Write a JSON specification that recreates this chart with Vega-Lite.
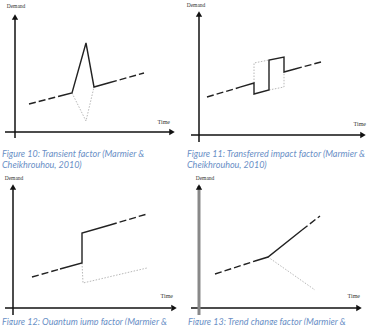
{
  "$schema": "https://vega.github.io/schema/vega-lite/v6.json",
  "width": 373,
  "height": 325,
  "padding": 0,
  "autosize": {"type": "none"},
  "background": "white",
  "config": {"view": {"stroke": null}},
  "datasets": {
    "axes": [
      {"panel": 1, "orient": "v", "x": 15, "y": 16, "x2": 15, "y2": 138},
      {"panel": 1, "orient": "h", "x": 5, "y": 132, "x2": 170, "y2": 132},
      {"panel": 2, "orient": "v", "x": 199, "y": 13, "x2": 199, "y2": 142},
      {"panel": 2, "orient": "h", "x": 191, "y": 135, "x2": 361, "y2": 135},
      {"panel": 3, "orient": "v", "x": 13, "y": 186, "x2": 13, "y2": 315},
      {"panel": 3, "orient": "h", "x": 5, "y": 308, "x2": 171, "y2": 308},
      {"panel": 4, "orient": "v", "x": 199, "y": 186, "x2": 199, "y2": 315},
      {"panel": 4, "orient": "h", "x": 191, "y": 308, "x2": 357, "y2": 308}
    ],
    "arrows": [
      {"orient": "v", "x": 15, "y": 17},
      {"orient": "h", "x": 172, "y": 132},
      {"orient": "v", "x": 199, "y": 14},
      {"orient": "h", "x": 363, "y": 135},
      {"orient": "v", "x": 13, "y": 187},
      {"orient": "h", "x": 174, "y": 308},
      {"orient": "v", "x": 199, "y": 187},
      {"orient": "h", "x": 359, "y": 308}
    ],
    "lines": [
      {"seg": "p1a", "style": "dashed", "i": 0, "x": 29, "y": 104},
      {"seg": "p1a", "style": "dashed", "i": 1, "x": 62, "y": 95.5},
      {"seg": "p1b", "style": "solid", "i": 0, "x": 62, "y": 95.5},
      {"seg": "p1b", "style": "solid", "i": 1, "x": 72, "y": 93},
      {"seg": "p1b", "style": "solid", "i": 2, "x": 86, "y": 43},
      {"seg": "p1b", "style": "solid", "i": 3, "x": 94, "y": 87},
      {"seg": "p1b", "style": "solid", "i": 4, "x": 110, "y": 82.5},
      {"seg": "p1c", "style": "dashed", "i": 0, "x": 110, "y": 82.5},
      {"seg": "p1c", "style": "dashed", "i": 1, "x": 144, "y": 73},
      {"seg": "p1d", "style": "dotted", "i": 0, "x": 72, "y": 93},
      {"seg": "p1d", "style": "dotted", "i": 1, "x": 86, "y": 121},
      {"seg": "p1d", "style": "dotted", "i": 2, "x": 94, "y": 87},

      {"seg": "p2a", "style": "dashed", "i": 0, "x": 207, "y": 97},
      {"seg": "p2a", "style": "dashed", "i": 1, "x": 240, "y": 87.2},
      {"seg": "p2b", "style": "solid", "i": 0, "x": 240, "y": 87.2},
      {"seg": "p2b", "style": "solid", "i": 1, "x": 254, "y": 83},
      {"seg": "p2b", "style": "solid", "i": 2, "x": 254, "y": 94},
      {"seg": "p2b", "style": "solid", "i": 3, "x": 269, "y": 90},
      {"seg": "p2b", "style": "solid", "i": 4, "x": 269, "y": 60},
      {"seg": "p2b", "style": "solid", "i": 5, "x": 284, "y": 57},
      {"seg": "p2b", "style": "solid", "i": 6, "x": 284, "y": 72},
      {"seg": "p2b", "style": "solid", "i": 7, "x": 295, "y": 69},
      {"seg": "p2c", "style": "dashed", "i": 0, "x": 295, "y": 69},
      {"seg": "p2c", "style": "dashed", "i": 1, "x": 321, "y": 62},
      {"seg": "p2d", "style": "dotted", "i": 0, "x": 254, "y": 83},
      {"seg": "p2d", "style": "dotted", "i": 1, "x": 254, "y": 63},
      {"seg": "p2d", "style": "dotted", "i": 2, "x": 269, "y": 60},
      {"seg": "p2e", "style": "dotted", "i": 0, "x": 269, "y": 90},
      {"seg": "p2e", "style": "dotted", "i": 1, "x": 284, "y": 87},
      {"seg": "p2e", "style": "dotted", "i": 2, "x": 284, "y": 72},

      {"seg": "p3a", "style": "dashed", "i": 0, "x": 32, "y": 277},
      {"seg": "p3a", "style": "dashed", "i": 1, "x": 60, "y": 269},
      {"seg": "p3b", "style": "solid", "i": 0, "x": 60, "y": 269},
      {"seg": "p3b", "style": "solid", "i": 1, "x": 82, "y": 263},
      {"seg": "p3b", "style": "solid", "i": 2, "x": 82, "y": 233},
      {"seg": "p3b", "style": "solid", "i": 3, "x": 110, "y": 225},
      {"seg": "p3c", "style": "dashed", "i": 0, "x": 110, "y": 225},
      {"seg": "p3c", "style": "dashed", "i": 1, "x": 147, "y": 214},
      {"seg": "p3d", "style": "dotted", "i": 0, "x": 82, "y": 263},
      {"seg": "p3d", "style": "dotted", "i": 1, "x": 83, "y": 283},
      {"seg": "p3d", "style": "dotted", "i": 2, "x": 147, "y": 268},

      {"seg": "p4a", "style": "dashed", "i": 0, "x": 215, "y": 274},
      {"seg": "p4a", "style": "dashed", "i": 1, "x": 255, "y": 261},
      {"seg": "p4b", "style": "solid", "i": 0, "x": 255, "y": 261},
      {"seg": "p4b", "style": "solid", "i": 1, "x": 268, "y": 257},
      {"seg": "p4b", "style": "solid", "i": 2, "x": 302, "y": 230},
      {"seg": "p4c", "style": "dashed", "i": 0, "x": 302, "y": 230},
      {"seg": "p4c", "style": "dashed", "i": 1, "x": 320, "y": 216},
      {"seg": "p4d", "style": "dotted", "i": 0, "x": 268, "y": 257},
      {"seg": "p4d", "style": "dotted", "i": 1, "x": 315, "y": 290}
    ],
    "labels": [
      {"kind": "demand", "text": "Demand", "x": 16, "y": 6},
      {"kind": "demand", "text": "Demand", "x": 196, "y": 5},
      {"kind": "demand", "text": "Demand", "x": 14, "y": 178},
      {"kind": "demand", "text": "Demand", "x": 205, "y": 178},
      {"kind": "time", "text": "Time", "x": 170, "y": 122},
      {"kind": "time", "text": "Time", "x": 366, "y": 124},
      {"kind": "time", "text": "Time", "x": 173, "y": 296},
      {"kind": "time", "text": "Time", "x": 360, "y": 296},
      {"kind": "caption", "text": "Figure 10: Transient factor (Marmier &", "x": 2, "y": 157},
      {"kind": "caption", "text": "Cheikhrouhou, 2010)", "x": 2, "y": 168},
      {"kind": "caption", "text": "Figure 11: Transferred impact factor (Marmier &", "x": 187, "y": 157},
      {"kind": "caption", "text": "Cheikhrouhou, 2010)", "x": 187, "y": 168},
      {"kind": "caption", "text": "Figure 12: Quantum jump factor (Marmier &", "x": 2, "y": 325},
      {"kind": "caption", "text": "Figure 13: Trend change factor (Marmier &", "x": 188, "y": 325}
    ]
  },
  "layer": [
    {
      "data": {"name": "axes"},
      "transform": [{"filter": "!(datum.panel == 4 && datum.orient == 'v')"}],
      "mark": {"type": "rule", "color": "#111", "strokeWidth": 1.5},
      "encoding": {
        "x": {"field": "x", "type": "quantitative", "scale": {"domain": [0, 373]}, "axis": null},
        "y": {"field": "y", "type": "quantitative", "scale": {"domain": [0, 325], "reverse": true}, "axis": null},
        "x2": {"field": "x2"},
        "y2": {"field": "y2"}
      }
    },
    {
      "data": {"name": "axes"},
      "transform": [{"filter": "datum.panel == 4 && datum.orient == 'v'"}],
      "mark": {"type": "rule", "color": "#888", "strokeWidth": 3},
      "encoding": {
        "x": {"field": "x", "type": "quantitative", "scale": {"domain": [0, 373]}, "axis": null},
        "y": {"field": "y", "type": "quantitative", "scale": {"domain": [0, 325], "reverse": true}, "axis": null},
        "x2": {"field": "x2"},
        "y2": {"field": "y2"}
      }
    },
    {
      "data": {"name": "arrows"},
      "mark": {"type": "point", "filled": true, "color": "#111", "opacity": 1, "size": 40},
      "encoding": {
        "x": {"field": "x", "type": "quantitative", "scale": {"domain": [0, 373]}, "axis": null},
        "y": {"field": "y", "type": "quantitative", "scale": {"domain": [0, 325], "reverse": true}, "axis": null},
        "shape": {"field": "orient", "type": "nominal", "scale": {"domain": ["v", "h"], "range": ["triangle-up", "triangle-right"]}, "legend": null}
      }
    },
    {
      "data": {"name": "lines"},
      "transform": [{"filter": "datum.style == 'dotted'"}],
      "mark": {"type": "line", "color": "#b8b8b8", "strokeWidth": 1, "strokeDash": [1.5, 1.5]},
      "encoding": {
        "x": {"field": "x", "type": "quantitative", "scale": {"domain": [0, 373]}, "axis": null},
        "y": {"field": "y", "type": "quantitative", "scale": {"domain": [0, 325], "reverse": true}, "axis": null},
        "detail": {"field": "seg", "type": "nominal"},
        "order": {"field": "i", "type": "quantitative"}
      }
    },
    {
      "data": {"name": "lines"},
      "transform": [{"filter": "datum.style == 'dashed'"}],
      "mark": {"type": "line", "color": "#222", "strokeWidth": 1.4, "strokeDash": [7, 3]},
      "encoding": {
        "x": {"field": "x", "type": "quantitative", "scale": {"domain": [0, 373]}, "axis": null},
        "y": {"field": "y", "type": "quantitative", "scale": {"domain": [0, 325], "reverse": true}, "axis": null},
        "detail": {"field": "seg", "type": "nominal"},
        "order": {"field": "i", "type": "quantitative"}
      }
    },
    {
      "data": {"name": "lines"},
      "transform": [{"filter": "datum.style == 'solid'"}],
      "mark": {"type": "line", "color": "#222", "strokeWidth": 1.4},
      "encoding": {
        "x": {"field": "x", "type": "quantitative", "scale": {"domain": [0, 373]}, "axis": null},
        "y": {"field": "y", "type": "quantitative", "scale": {"domain": [0, 325], "reverse": true}, "axis": null},
        "detail": {"field": "seg", "type": "nominal"},
        "order": {"field": "i", "type": "quantitative"}
      }
    },
    {
      "data": {"name": "labels"},
      "transform": [{"filter": "datum.kind == 'demand'"}],
      "mark": {"type": "text", "font": "Liberation Serif", "fontSize": 5.5, "color": "#333", "align": "center", "baseline": "middle"},
      "encoding": {
        "x": {"field": "x", "type": "quantitative", "scale": {"domain": [0, 373]}, "axis": null},
        "y": {"field": "y", "type": "quantitative", "scale": {"domain": [0, 325], "reverse": true}, "axis": null},
        "text": {"field": "text"}
      }
    },
    {
      "data": {"name": "labels"},
      "transform": [{"filter": "datum.kind == 'time'"}],
      "mark": {"type": "text", "font": "Liberation Serif", "fontSize": 6, "color": "#333", "align": "right", "baseline": "middle"},
      "encoding": {
        "x": {"field": "x", "type": "quantitative", "scale": {"domain": [0, 373]}, "axis": null},
        "y": {"field": "y", "type": "quantitative", "scale": {"domain": [0, 325], "reverse": true}, "axis": null},
        "text": {"field": "text"}
      }
    },
    {
      "data": {"name": "labels"},
      "transform": [{"filter": "datum.kind == 'caption'"}],
      "mark": {"type": "text", "font": "Lato", "fontStyle": "italic", "fontSize": 9, "color": "#6a8fc6", "align": "left", "baseline": "alphabetic"},
      "encoding": {
        "x": {"field": "x", "type": "quantitative", "scale": {"domain": [0, 373]}, "axis": null},
        "y": {"field": "y", "type": "quantitative", "scale": {"domain": [0, 325], "reverse": true}, "axis": null},
        "text": {"field": "text"}
      }
    }
  ]
}
